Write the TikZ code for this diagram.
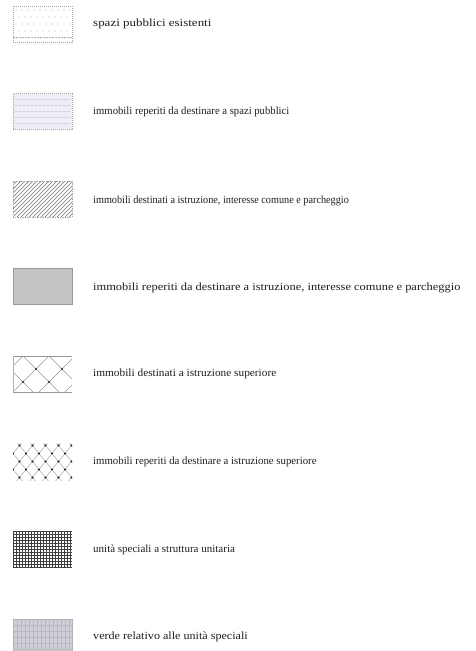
\documentclass[tikz,border=0pt]{standalone}
\usepackage{fontspec}
\usepackage{graphicx}
\setmainfont{Liberation Serif}
\definecolor{txt}{gray}{0.12}
\definecolor{lav}{RGB}{238,238,246}
\definecolor{midgrey}{RGB}{196,196,198}
\definecolor{bluegrey}{RGB}{206,206,216}
\tikzset{
  swframe/.style={draw=gray!70, line width=0.5pt},
  label/.style={anchor=west, inner sep=0pt, text=txt, font=\fontsize{11}{13}\selectfont},
}
\newcommand{\wlab}[2]{\scalebox{#1}[1]{#2}}
\begin{document}
\begin{tikzpicture}[x=1pt,y=-1pt]
\useasboundingbox[fill=white] (0,0) rectangle (475,651);
\def\sx{13}\def\sw{59}\def\sh{36}
% ---- 1: spazi pubblici esistenti
\begin{scope}[shift={(\sx,6)}]
  \path[swframe, dash pattern=on 1pt off 1pt] (0,0) rectangle (\sw,\sh);
  \begin{scope}
    \clip (0,0) rectangle (\sw,\sh);
    \foreach \r in {0,...,4}{
      \foreach \c in {0,...,10}{
        \fill[gray!60] ({3+\c*6+mod(\r,2)*3},{4+\r*7}) circle (0.6);
      }
    }
    \draw[gray!60, dash pattern=on 2pt off 1pt] (0,31) -- (\sw,31);
  \end{scope}
\end{scope}
\node[label] (t1) at (93,24) {\wlab{1.18}{spazi pubblici esistenti}};
% ---- 2
\begin{scope}[shift={(\sx,93.5)}]
  \path[fill=lav, swframe, dash pattern=on 1pt off 1pt] (0,0) rectangle (\sw,\sh);
  \begin{scope}
    \clip (0,0) rectangle (\sw,\sh);
    \foreach \r in {1,...,5}{
      \draw[gray!35, dash pattern=on 3pt off 1pt] (2,{\r*6}) -- ({\sw-2},{\r*6});
    }
  \end{scope}
\end{scope}
\node[label] (t2) at (93,111.5) {\wlab{0.97}{immobili reperiti da destinare a spazi pubblici}};
% ---- 3
\begin{scope}[shift={(\sx,181)}]
  \begin{scope}
    \clip (0,0) rectangle (\sw,\sh);
    \foreach \i in {-40,-36,...,64}{
      \draw[gray!90!black, line width=0.6pt] (\i,\sh) -- ({\i+\sh},0);
    }
  \end{scope}
  \path[swframe, dash pattern=on 1.5pt off 1pt] (0,0) rectangle (\sw,\sh);
\end{scope}
\node[label] (t3) at (93,201) {\wlab{0.93}{immobili destinati a istruzione, interesse comune e parcheggio}};
% ---- 4
\begin{scope}[shift={(\sx,268.5)}]
  \path[fill=midgrey, draw=gray!80, line width=0.6pt] (0,0) rectangle (\sw,\sh);
\end{scope}
\node[label] (t4) at (93,288) {\wlab{1.13}{immobili reperiti da destinare a istruzione, interesse comune e parcheggio}};
% ---- 5
\begin{scope}[shift={(\sx,356)}]
  \begin{scope}
    \clip (0,0) rectangle (\sw,\sh);
    \foreach \i in {-44,-18,...,60}{
      \draw[gray!80, line width=0.5pt] (\i,-2) -- ({\i+40},38);
    }
    \foreach \i in {-54,-28,...,50}{
      \draw[gray!80, line width=0.5pt] (\i,38) -- ({\i+40},-2);
    }
    \foreach \xx/\yy in {23/13,49/13,10/26,36/26,62/26,10/0,36/0}{
      \fill[gray!30!black] (\xx,\yy) circle (1.1);
    }
  \end{scope}
  \draw[gray!80, line width=0.5pt] (0,0) -- (\sw,0);
  \draw[gray!80, line width=0.5pt] (0,\sh) -- (\sw,\sh);
  \draw[gray!60, line width=0.4pt] (0,0) -- (0,\sh);
\end{scope}
\node[label] (t5) at (93,374) {\wlab{1.03}{immobili destinati a istruzione superiore}};
% ---- 6
\begin{scope}[shift={(\sx,443.5)}]
  \begin{scope}
    \clip (0,-0.5) rectangle (\sw,{\sh+0.5});
    \foreach \k in {-4,...,8}{
      \draw[gray!70, line width=0.5pt] ({6.5+13*\k-6.5},-6) -- ({6.5+13*\k+6.5*5},42);
      \draw[gray!70, line width=0.5pt] ({6.5+13*\k+6.5},-6) -- ({6.5+13*\k-6.5*5},42);
    }
    \foreach \r in {0,...,4}{
      \foreach \c in {-1,...,5}{
        \fill[gray!20!black] ({\c*13+mod(\r,2)*6.5+6.5},{\r*8+2}) circle (1.1);
      }
    }
  \end{scope}
\end{scope}
\node[label] (t6) at (93,462) {\wlab{0.98}{immobili reperiti da destinare a istruzione superiore}};
% ---- 7
\begin{scope}[shift={(\sx,531)}]
  \begin{scope}
    \clip (0,0) rectangle (\sw,\sh);
    \foreach \i in {0,3,...,60}{
      \draw[gray!50!black, line width=0.45pt] (\i,0) -- (\i,\sh);
    }
    \foreach \j in {0,3,...,36}{
      \draw[gray!50!black, line width=0.45pt] (0,\j) -- (\sw,\j);
    }
  \end{scope}
\end{scope}
\node[label] (t7) at (93,550) {\wlab{1.0}{unità speciali a struttura unitaria}};
% ---- 8
\begin{scope}[shift={(\sx,619)}]
  \path[fill=bluegrey] (0,0) rectangle (\sw,32);
  \begin{scope}
    \clip (0,0) rectangle (\sw,32);
    \foreach \i in {0,4,...,60}{
      \draw[gray!55, line width=0.4pt] (\i,0) -- (\i,32);
    }
    \foreach \j in {0,6,...,36}{
      \draw[gray!55, line width=0.4pt] (0,\j) -- (\sw,\j);
    }
  \end{scope}
  \path[draw=gray!60] (0,0) rectangle (\sw,32);
\end{scope}
\node[label] (t8) at (93,637) {\wlab{1.1}{verde relativo alle unità speciali}};
\end{tikzpicture}
\end{document}
